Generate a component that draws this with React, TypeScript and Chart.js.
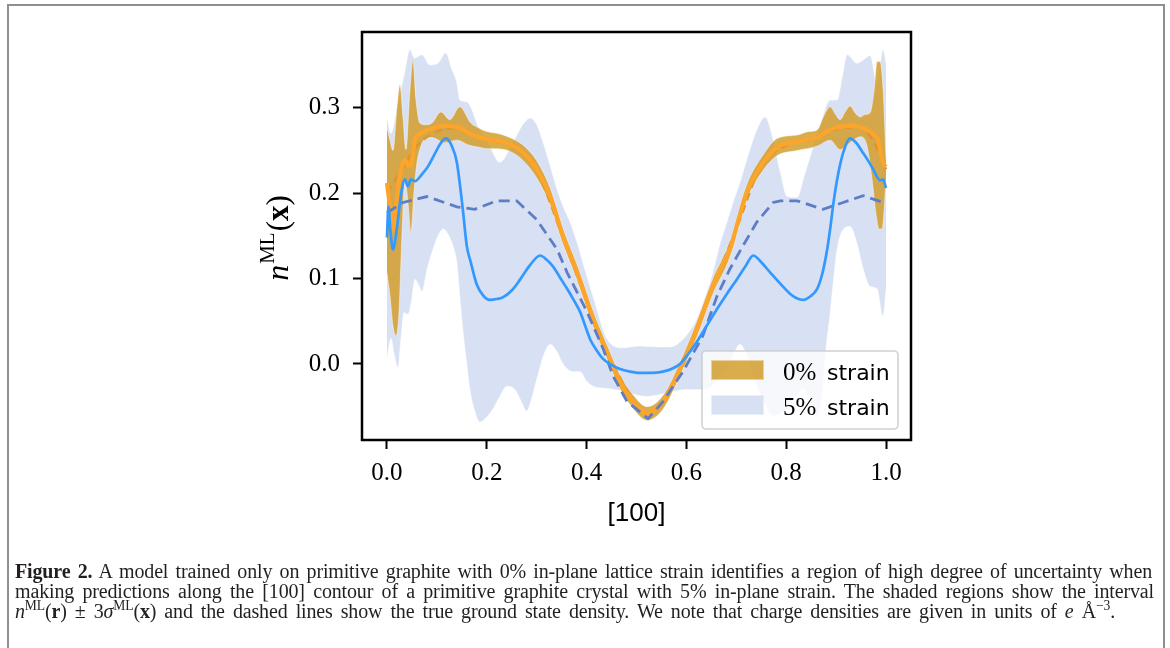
import React, { useEffect, useRef } from 'react';
import { Chart, registerables } from 'chart.js';

Chart.register(...registerables);

// ---------- axis ticks & labels ----------
const X_TICKS = [0.0, 0.2, 0.4, 0.6, 0.8, 1.0];
const Y_TICKS = [0.0, 0.1, 0.2, 0.3];
const X_TITLE = '[100]';
const LEGEND_PCT = ['0%', '5%'];
const LEGEND_WORD = 'strain';

// ---------- 0% strain: ML prediction ----------
const ORANGE_X = [0, 0.006, 0.012, 0.018, 0.024, 0.03, 0.036, 0.042, 0.048, 0.056, 0.068, 0.082, 0.1, 0.116, 0.132, 0.148, 0.165, 0.182, 0.2, 0.22, 0.246, 0.26, 0.273, 0.287, 0.3, 0.314, 0.327, 0.34, 0.353, 0.367, 0.381, 0.397, 0.413, 0.427, 0.441, 0.454, 0.467, 0.48, 0.493, 0.507, 0.521, 0.537, 0.553, 0.573, 0.593, 0.607, 0.621, 0.637, 0.653, 0.67, 0.687, 0.704, 0.721, 0.737, 0.754, 0.768, 0.782, 0.802, 0.822, 0.842, 0.862, 0.876, 0.888, 0.9, 0.914, 0.928, 0.942, 0.955, 0.968, 0.978, 0.984, 0.99, 0.995, 1.0];
const ORANGE_Y = [0.212, 0.185, 0.158, 0.185, 0.212, 0.232, 0.239, 0.233, 0.232, 0.262, 0.27, 0.274, 0.277, 0.279, 0.278, 0.276, 0.27, 0.266, 0.263, 0.261, 0.257, 0.253, 0.247, 0.239, 0.228, 0.213, 0.196, 0.173, 0.149, 0.128, 0.107, 0.08, 0.053, 0.032, 0.014, -0.004, -0.021, -0.034, -0.044, -0.053, -0.058, -0.054, -0.045, -0.024, 0.002, 0.021, 0.041, 0.066, 0.091, 0.113, 0.134, 0.168, 0.201, 0.22, 0.236, 0.246, 0.254, 0.258, 0.26, 0.263, 0.265, 0.27, 0.274, 0.277, 0.278, 0.279, 0.278, 0.276, 0.272, 0.267, 0.262, 0.245, 0.234, 0.231];

// 0% strain: +3 sigma
const ORANGE_UP_X = [0, 0.006, 0.012, 0.02, 0.026, 0.032, 0.038, 0.046, 0.052, 0.058, 0.066, 0.076, 0.09, 0.108, 0.126, 0.146, 0.168, 0.185, 0.2, 0.22, 0.246, 0.273, 0.3, 0.327, 0.353, 0.381, 0.413, 0.441, 0.467, 0.493, 0.521, 0.553, 0.593, 0.621, 0.653, 0.687, 0.721, 0.754, 0.782, 0.822, 0.845, 0.862, 0.875, 0.888, 0.898, 0.908, 0.918, 0.928, 0.938, 0.948, 0.958, 0.968, 0.976, 0.982, 0.988, 0.994, 1.0];
const ORANGE_UP_Y = [0.277, 0.262, 0.25, 0.3, 0.327, 0.29, 0.251, 0.32, 0.356, 0.31, 0.282, 0.28, 0.282, 0.295, 0.286, 0.301, 0.282, 0.276, 0.272, 0.27, 0.265, 0.256, 0.238, 0.206, 0.158, 0.116, 0.062, 0.022, -0.013, -0.036, -0.05, -0.037, 0.01, 0.05, 0.1, 0.143, 0.21, 0.245, 0.264, 0.268, 0.272, 0.274, 0.29, 0.301, 0.293, 0.286, 0.295, 0.302, 0.294, 0.289, 0.292, 0.294, 0.32, 0.354, 0.354, 0.322, 0.24];

// 0% strain: -3 sigma
const ORANGE_LO_X = [0, 0.006, 0.012, 0.018, 0.024, 0.03, 0.036, 0.042, 0.048, 0.054, 0.06, 0.068, 0.078, 0.09, 0.116, 0.14, 0.165, 0.182, 0.2, 0.22, 0.246, 0.273, 0.3, 0.327, 0.353, 0.381, 0.413, 0.441, 0.467, 0.493, 0.521, 0.553, 0.593, 0.621, 0.653, 0.687, 0.721, 0.754, 0.782, 0.822, 0.862, 0.888, 0.908, 0.928, 0.948, 0.962, 0.972, 0.98, 0.986, 0.992, 1.0];
const ORANGE_LO_Y = [0.107, 0.08, 0.045, 0.033, 0.06, 0.15, 0.216, 0.19, 0.154, 0.2, 0.235, 0.255, 0.264, 0.265, 0.259, 0.262, 0.256, 0.254, 0.252, 0.252, 0.249, 0.238, 0.218, 0.186, 0.14, 0.098, 0.044, 0.006, -0.029, -0.052, -0.066, -0.053, -0.006, 0.032, 0.082, 0.125, 0.192, 0.227, 0.244, 0.25, 0.255, 0.262, 0.251, 0.259, 0.266, 0.255, 0.216, 0.175, 0.158, 0.158, 0.216];

// 0% strain: true ground-state density (dashed)
const ORANGE_TRUE_X = [0, 0.03, 0.06, 0.1, 0.14, 0.2, 0.25, 0.3, 0.35, 0.4, 0.45, 0.5, 0.52, 0.55, 0.6, 0.65, 0.7, 0.75, 0.8, 0.85, 0.9, 0.94, 0.97, 1.0];
const ORANGE_TRUE_Y = [0.2, 0.228, 0.255, 0.272, 0.276, 0.262, 0.255, 0.226, 0.152, 0.074, 0.004, -0.048, -0.057, -0.047, 0.009, 0.086, 0.158, 0.232, 0.256, 0.263, 0.275, 0.277, 0.265, 0.228];

// ---------- 5% strain: ML prediction ----------
const BLUE_X = [0, 0.003, 0.007, 0.012, 0.018, 0.022, 0.03, 0.036, 0.042, 0.048, 0.056, 0.07, 0.082, 0.095, 0.106, 0.118, 0.13, 0.14, 0.152, 0.16, 0.168, 0.18, 0.193, 0.206, 0.22, 0.232, 0.25, 0.267, 0.287, 0.307, 0.32, 0.333, 0.347, 0.361, 0.374, 0.387, 0.397, 0.407, 0.42, 0.433, 0.45, 0.467, 0.487, 0.507, 0.53, 0.553, 0.57, 0.587, 0.604, 0.621, 0.641, 0.661, 0.681, 0.701, 0.718, 0.734, 0.75, 0.768, 0.788, 0.808, 0.821, 0.834, 0.848, 0.862, 0.872, 0.882, 0.888, 0.895, 0.902, 0.914, 0.928, 0.94, 0.954, 0.964, 0.974, 0.982, 0.988, 0.994, 1.0];
const BLUE_Y = [0.148, 0.184, 0.155, 0.134, 0.15, 0.169, 0.205, 0.216, 0.208, 0.216, 0.214, 0.222, 0.231, 0.245, 0.257, 0.264, 0.255, 0.236, 0.181, 0.138, 0.119, 0.093, 0.08, 0.075, 0.076, 0.078, 0.086, 0.099, 0.116, 0.127, 0.122, 0.114, 0.101, 0.088, 0.075, 0.061, 0.045, 0.029, 0.016, 0.006, -0.001, -0.006, -0.009, -0.0105, -0.0105, -0.009, -0.006, 0.0, 0.012, 0.026, 0.045, 0.064, 0.082, 0.099, 0.114, 0.127, 0.119, 0.107, 0.094, 0.082, 0.077, 0.075, 0.079, 0.088, 0.105, 0.134, 0.158, 0.19, 0.216, 0.247, 0.264, 0.259, 0.247, 0.238, 0.228, 0.219, 0.215, 0.216, 0.206];

// 5% strain: +3 sigma
const BLUE_UP_X = [0, 0.008, 0.02, 0.035, 0.046, 0.055, 0.07, 0.086, 0.102, 0.118, 0.13, 0.14, 0.146, 0.16, 0.186, 0.206, 0.226, 0.252, 0.272, 0.287, 0.3, 0.313, 0.327, 0.341, 0.354, 0.367, 0.381, 0.397, 0.413, 0.441, 0.473, 0.507, 0.54, 0.567, 0.593, 0.621, 0.637, 0.653, 0.667, 0.681, 0.694, 0.707, 0.724, 0.741, 0.758, 0.774, 0.788, 0.802, 0.822, 0.835, 0.848, 0.868, 0.888, 0.902, 0.912, 0.922, 0.942, 0.955, 0.968, 0.982, 0.994, 1.0];
const BLUE_UP_Y = [0.288, 0.27, 0.3, 0.34, 0.368, 0.358, 0.362, 0.35, 0.352, 0.364, 0.345, 0.329, 0.309, 0.307, 0.274, 0.255, 0.236, 0.259, 0.28, 0.288, 0.28, 0.259, 0.232, 0.204, 0.183, 0.166, 0.142, 0.11, 0.079, 0.029, 0.019, 0.021, 0.02, 0.02, 0.029, 0.053, 0.078, 0.107, 0.14, 0.166, 0.19, 0.212, 0.245, 0.274, 0.289, 0.262, 0.225, 0.196, 0.195, 0.218, 0.243, 0.28, 0.309, 0.309, 0.335, 0.362, 0.352, 0.356, 0.361, 0.329, 0.368, 0.352];

// 5% strain: -3 sigma
const BLUE_LO_X = [0, 0.008, 0.015, 0.022, 0.028, 0.034, 0.042, 0.048, 0.056, 0.064, 0.07, 0.08, 0.092, 0.104, 0.113, 0.124, 0.134, 0.14, 0.146, 0.152, 0.16, 0.166, 0.176, 0.186, 0.2, 0.212, 0.226, 0.24, 0.25, 0.26, 0.27, 0.28, 0.29, 0.3, 0.315, 0.327, 0.34, 0.353, 0.373, 0.387, 0.4, 0.413, 0.447, 0.48, 0.52, 0.56, 0.6, 0.64, 0.66, 0.68, 0.695, 0.707, 0.72, 0.73, 0.741, 0.755, 0.774, 0.788, 0.802, 0.818, 0.834, 0.846, 0.862, 0.872, 0.88, 0.888, 0.895, 0.902, 0.915, 0.928, 0.94, 0.955, 0.968, 0.982, 0.994, 1.0];
const BLUE_LO_Y = [0.006, 0.03, 0.01, -0.004, 0.03, 0.06, 0.058, 0.07, 0.099, 0.092, 0.085, 0.11, 0.134, 0.152, 0.158, 0.15, 0.135, 0.119, 0.08, 0.041, 0.0, -0.029, -0.055, -0.068, -0.062, -0.053, -0.038, -0.026, -0.027, -0.033, -0.045, -0.055, -0.04, -0.018, 0.012, 0.023, 0.015, 0.0, -0.009, -0.009, -0.02, -0.026, -0.029, -0.033, -0.038, -0.034, -0.03, -0.03, -0.02, -0.008, 0.012, 0.023, 0.012, -0.005, -0.026, -0.045, -0.061, -0.058, -0.053, -0.04, -0.029, -0.042, -0.061, -0.035, 0.02, 0.06, 0.1, 0.135, 0.158, 0.161, 0.145, 0.11, 0.091, 0.088, 0.056, 0.088];

// 5% strain: true ground-state density (dashed)
const BLUE_TRUE_X = [0, 0.032, 0.08, 0.14, 0.176, 0.22, 0.26, 0.3, 0.341, 0.361, 0.401, 0.433, 0.453, 0.481, 0.507, 0.523, 0.553, 0.593, 0.633, 0.661, 0.687, 0.713, 0.741, 0.774, 0.788, 0.822, 0.874, 0.914, 0.954, 1.0];
const BLUE_TRUE_Y = [0.177, 0.189, 0.196, 0.184, 0.181, 0.191, 0.191, 0.169, 0.134, 0.107, 0.061, 0.018, -0.014, -0.044, -0.056, -0.064, -0.044, -0.009, 0.033, 0.079, 0.111, 0.138, 0.166, 0.189, 0.191, 0.191, 0.181, 0.189, 0.197, 0.188];

// ---------- styling ----------
const GOLD_FILL = 'rgba(210,158,45,0.85)';
const LAVENDER_FILL = 'rgba(178,193,232,0.5)';
const EDGE = 'rgba(255,255,255,0.45)';
const ORANGE_LINE = '#FDA52A';
const ORANGE_DASH = '#E0952C';
const BLUE_LINE = '#3399FF';
const BLUE_DASH = '#5C7EC6';

const SERIF = '"Liberation Serif", "Times New Roman", serif';
const SANS = '"DejaVu Sans", sans-serif';

const zip = (xs: number[], ys: number[]) => xs.map((x, i) => ({ x, y: ys[i] }));

const decorPlugin = {
  id: 'decor',
  afterDatasetsDraw(chart: any) {
    const { ctx, chartArea: a } = chart;
    ctx.save();
    // spines
    ctx.strokeStyle = '#000';
    ctx.lineWidth = 2.5;
    ctx.strokeRect(a.left, a.top, a.right - a.left, a.bottom - a.top);

    // legend
    const bw = 196, bh = 78;
    const bx = a.right - 13 - bw, by = a.bottom - 11 - bh;
    ctx.beginPath();
    (ctx as any).roundRect(bx, by, bw, bh, 4);
    ctx.fillStyle = 'rgba(255,255,255,0.8)';
    ctx.fill();
    ctx.strokeStyle = 'rgba(204,204,204,0.9)';
    ctx.lineWidth = 1.6;
    ctx.stroke();

    const fills = [GOLD_FILL, LAVENDER_FILL];
    for (let i = 0; i < 2; i++) {
      const py = by + 9 + i * 35;
      ctx.fillStyle = fills[i];
      ctx.fillRect(bx + 9, py, 53, 20);
      ctx.strokeStyle = EDGE;
      ctx.lineWidth = 1;
      ctx.strokeRect(bx + 9.5, py + 0.5, 52, 19);
      ctx.fillStyle = '#000';
      ctx.textBaseline = 'alphabetic';
      ctx.textAlign = 'left';
      ctx.font = `25px ${SERIF}`;
      const base = py + 20;
      ctx.fillText(LEGEND_PCT[i], bx + 81, base);
      ctx.font = `22px ${SANS}`;
      ctx.fillText(LEGEND_WORD, bx + 125, base);
    }
    ctx.restore();
  },
  afterDraw(chart: any) {
    const { ctx, chartArea: a } = chart;
    ctx.save();
    // x title
    ctx.fillStyle = '#000';
    ctx.font = `26px "Liberation Sans", Arial, sans-serif`;
    ctx.textAlign = 'center';
    ctx.textBaseline = 'middle';
    ctx.fillText(X_TITLE, (a.left + a.right) / 2, 514);

    // y title: n^ML(x)
    const parts = [
      { t: 'n', f: `italic 32px ${SERIF}`, dy: 0 },
      { t: 'ML', f: `21px ${SERIF}`, dy: -14 },
      { t: '(', f: `31px ${SERIF}`, dy: 0 },
      { t: 'x', f: `bold 31px ${SERIF}`, dy: 0 },
      { t: ')', f: `31px ${SERIF}`, dy: 0 },
    ];
    let total = 0;
    const widths = parts.map((p) => {
      ctx.font = p.f;
      const w = ctx.measureText(p.t).width + (p.t === 'ML' ? 2 : 0);
      total += w;
      return w;
    });
    ctx.translate(288, 238);
    ctx.rotate(-Math.PI / 2);
    ctx.textAlign = 'left';
    ctx.textBaseline = 'alphabetic';
    let cx = -total / 2;
    parts.forEach((p, i) => {
      ctx.font = p.f;
      ctx.fillText(p.t, cx + (p.t === 'ML' ? 1 : 0), p.dy);
      cx += widths[i];
    });
    ctx.restore();
  },
};

export default function App() {
  const ref = useRef<HTMLCanvasElement>(null);

  useEffect(() => {
    const canvas = ref.current;
    if (!canvas) return;
    const lineBase = { pointRadius: 0, pointHoverRadius: 0, cubicInterpolationMode: 'monotone' as const };
    const chart = new Chart(canvas, {
      type: 'line',
      data: {
        datasets: [
          { ...lineBase, data: zip(BLUE_UP_X, BLUE_UP_Y), borderColor: EDGE, borderWidth: 1, backgroundColor: LAVENDER_FILL, fill: 1, order: 8 },
          { ...lineBase, data: zip(BLUE_LO_X, BLUE_LO_Y), borderColor: EDGE, borderWidth: 1, fill: false, order: 7 },
          { ...lineBase, data: zip(ORANGE_UP_X, ORANGE_UP_Y), borderColor: EDGE, borderWidth: 1, backgroundColor: GOLD_FILL, fill: 3, order: 6 },
          { ...lineBase, data: zip(ORANGE_LO_X, ORANGE_LO_Y), borderColor: EDGE, borderWidth: 1, fill: false, order: 5 },
          { ...lineBase, data: zip(ORANGE_TRUE_X, ORANGE_TRUE_Y), borderColor: ORANGE_DASH, borderWidth: 2.5, borderDash: [8, 5], fill: false, order: 4 },
          { ...lineBase, data: zip(ORANGE_X, ORANGE_Y), borderColor: ORANGE_LINE, borderWidth: 4.2, fill: false, order: 3 },
          { pointRadius: 0, tension: 0, data: zip(BLUE_TRUE_X, BLUE_TRUE_Y), borderColor: BLUE_DASH, borderWidth: 2.8, borderDash: [11, 6], fill: false, order: 2 },
          { ...lineBase, data: zip(BLUE_X, BLUE_Y), borderColor: BLUE_LINE, borderWidth: 2.7, fill: false, order: 1 },
        ],
      },
      options: {
        animation: false,
        responsive: false,
        maintainAspectRatio: false,
        events: [],
        layout: { padding: { left: 302, right: 259, top: 32, bottom: 148 } },
        scales: {
          x: {
            type: 'linear',
            min: -0.05,
            max: 1.05,
            afterBuildTicks: (axis: any) => { axis.ticks = X_TICKS.map((value) => ({ value })); },
            afterFit: (axis: any) => { axis.height = 60; },
            ticks: {
              color: '#000',
              font: { family: SERIF, size: 25 },
              padding: 9,
              maxRotation: 0,
              autoSkip: false,
              callback: (v: any) => Number(v).toFixed(1),
            },
            grid: { display: true, drawOnChartArea: false, drawTicks: true, tickLength: 9, tickWidth: 2, tickColor: '#000', color: '#000' },
            border: { display: false },
          },
          y: {
            type: 'linear',
            min: -0.089,
            max: 0.3886,
            afterBuildTicks: (axis: any) => { axis.ticks = Y_TICKS.map((value) => ({ value })); },
            afterFit: (axis: any) => { axis.width = 60; },
            ticks: {
              color: '#000',
              font: { family: SERIF, size: 25 },
              padding: 13,
              autoSkip: false,
              callback: (v: any) => Number(v).toFixed(1),
            },
            grid: { display: true, drawOnChartArea: false, drawTicks: true, tickLength: 9, tickWidth: 2, tickColor: '#000', color: '#000' },
            border: { display: false },
          },
        },
        plugins: { legend: { display: false }, tooltip: { enabled: false } },
      },
      plugins: [decorPlugin],
    } as any);
    return () => chart.destroy();
  }, []);

  const sup = { fontSize: '0.68em', verticalAlign: 'super', lineHeight: 0 } as React.CSSProperties;
  const lineStyle = (w: number): React.CSSProperties => ({ width: w, textAlign: 'justify', textAlignLast: 'justify' as any, height: 20, overflow: 'visible' });

  return (
    <div style={{ position: 'fixed', left: 0, top: 0, width: 1170, height: 648, background: '#fff', overflow: 'hidden' }}>
      <div style={{ position: 'absolute', left: 7, top: 4, width: 1154, height: 700, border: '2px solid #8f8f8f' }} />
      <canvas ref={ref} width={1170} height={648} style={{ position: 'absolute', left: 0, top: 0, width: 1170, height: 648 }} />
      <div style={{ position: 'absolute', left: 15, top: 561, fontFamily: SERIF, fontSize: 20, lineHeight: '20px', color: '#231f20', letterSpacing: '-0.15px' }}>
        <div style={lineStyle(1137)}>
          <b>Figure 2.</b> A model trained only on primitive graphite with 0% in-plane lattice strain identifies a region of high degree of uncertainty when
        </div>
        <div style={lineStyle(1139)}>
          making predictions along the [100] contour of a primitive graphite crystal with 5% in-plane strain. The shaded regions show the interval
        </div>
        <div style={lineStyle(1100)}>
          <i>n</i><span style={sup}>ML</span>(<b>r</b>) ± 3<i>σ</i><span style={sup}>ML</span>(<b>x</b>) and the dashed lines show the true ground state density. We note that charge densities are given in units of <i>e</i> Å<span style={sup}>−3</span>.
        </div>
      </div>
    </div>
  );
}
